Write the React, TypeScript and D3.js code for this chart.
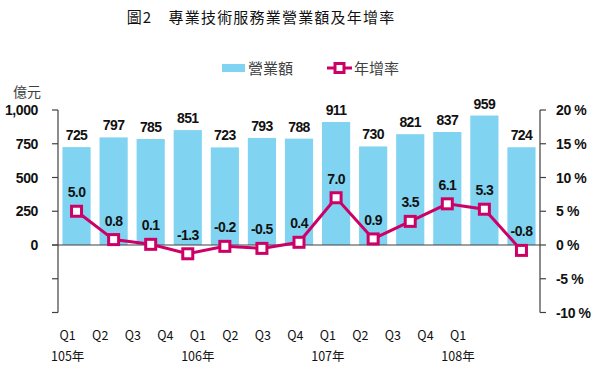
import React from "react";
import * as d3 from "d3";

const quarters = ["Q1", "Q2", "Q3", "Q4", "Q1", "Q2", "Q3", "Q4", "Q1", "Q2", "Q3", "Q4", "Q1"];
const years = ["105年", "", "", "", "106年", "", "", "", "107年", "", "", "", "108年"];
const sales = [725, 797, 785, 851, 723, 793, 788, 911, 730, 821, 837, 959, 724];
const growth = [5.0, 0.8, 0.1, -1.3, -0.2, -0.5, 0.4, 7.0, 0.9, 3.5, 6.1, 5.3, -0.8];
const leftTicks = [-500, -250, 0, 250, 500, 750, 1000];
const rightTicks = [-10, -5, 0, 5, 10, 15, 20];

const W = 595;
const H = 366;
const BLUE = "#80d4f1";
const PINK = "#cc0066";
const AXIS = "#404040";
const NUM_FONT = "'Liberation Sans', Arial, sans-serif";
const CJK_FONT = "'Noto Sans CJK TC', sans-serif";

// plain hyphen for negatives, like the original
const fmt1 = (v: number) => v.toFixed(1);

export default function App() {
  const idx = sales.map((_, i) => i);

  const x = d3.scaleBand<number>()
    .domain(idx)
    .range([58, 540])
    .paddingInner(0.24)
    .paddingOuter(0.12);

  // category labels sit on a narrower span than the bars
  const xLab = d3.scalePoint<number>()
    .domain(idx)
    .range([67.7, 458]);

  const yL = d3.scaleLinear().domain([-500, 1000]).range([312.5, 110]);
  const yR = d3.scaleLinear().domain([-10, 20]).range([312.5, 110]);

  const cx = (i: number) => (x(i) ?? 0) + x.bandwidth() / 2;

  const line = d3.line<number>()
    .x((_, i) => cx(i))
    .y(d => yR(d));

  const m = 10; // marker size

  return (
    <svg width={W} height={H} style={{ position: "absolute", left: 0, top: 0, background: "#fff" }}>
      {/* title */}
      <text x={261} y={23} textAnchor="middle" fontFamily={CJK_FONT} fontSize={15} fill="#111" letterSpacing={1.2}>
        圖2　專業技術服務業營業額及年增率
      </text>

      {/* legend */}
      <rect x={222} y={64} width={23} height={8} fill={BLUE} />
      <text x={248} y={74} fontFamily={CJK_FONT} fontSize={15} fill="#404040">營業額</text>
      <line x1={327} x2={352} y1={68} y2={68} stroke={PINK} strokeWidth={3} />
      <rect x={339.5 - 4.5} y={68 - 4.5} width={9} height={9} fill="#fff" stroke={PINK} strokeWidth={3} />
      <text x={354} y={74} fontFamily={CJK_FONT} fontSize={15} fill="#404040">年增率</text>

      <text x={13} y={97} fontFamily={CJK_FONT} fontSize={14} fill="#404040">億元</text>

      {/* bars */}
      {sales.map((v, i) => (
        <rect key={"b" + i} x={x(i)} y={yL(v)} width={x.bandwidth()} height={yL(0) - yL(v)} fill={BLUE} />
      ))}

      {/* bar value labels */}
      {sales.map((v, i) => (
        <text key={"bl" + i} x={cx(i)} y={yL(v) - 7} textAnchor="middle" fontFamily={NUM_FONT}
          fontWeight="bold" fontSize={14} letterSpacing={-0.6} fill="#111">
          {v}
        </text>
      ))}

      {/* zero line */}
      <line x1={52} x2={540} y1={yL(0)} y2={yL(0)} stroke={AXIS} strokeWidth={1} />

      {/* left axis */}
      <line x1={58} x2={58} y1={yL(1000)} y2={yL(-500)} stroke={AXIS} strokeWidth={1.2} />
      {leftTicks.map(t => (
        <g key={"lt" + t}>
          <line x1={52} x2={58} y1={yL(t)} y2={yL(t)} stroke={AXIS} strokeWidth={1.2} />
          {t >= 0 && (
            <text x={38} y={yL(t) + 5} textAnchor="end" fontFamily={NUM_FONT} fontWeight="bold"
              fontSize={14} letterSpacing={-0.4} fill="#111">
              {d3.format(",")(t)}
            </text>
          )}
        </g>
      ))}

      {/* right axis */}
      <line x1={540} x2={540} y1={yR(20)} y2={yR(-10)} stroke={AXIS} strokeWidth={1.2} />
      {rightTicks.map(t => (
        <g key={"rt" + t}>
          <line x1={540} x2={546} y1={yR(t)} y2={yR(t)} stroke={AXIS} strokeWidth={1.2} />
          <text x={556} y={yR(t) + 5} fontFamily={NUM_FONT} fontWeight="bold" fontSize={14}
            letterSpacing={-0.4} fill="#111">
            {t} %
          </text>
        </g>
      ))}

      {/* growth line */}
      <path d={line(growth) ?? ""} fill="none" stroke={PINK} strokeWidth={3} />
      {growth.map((v, i) => (
        <rect key={"m" + i} x={cx(i) - m / 2} y={yR(v) - m / 2} width={m} height={m}
          fill="#fff" stroke={PINK} strokeWidth={3} />
      ))}
      {growth.map((v, i) => (
        <text key={"gl" + i} x={cx(i)} y={yR(v) - 14} textAnchor="middle" fontFamily={NUM_FONT}
          fontWeight="bold" fontSize={14} letterSpacing={-0.6} fill="#111">
          {fmt1(v)}
        </text>
      ))}

      {/* category labels */}
      {quarters.map((q, i) => (
        <text key={"q" + i} x={xLab(i)} y={340} textAnchor="middle" fontFamily={CJK_FONT}
          fontSize={12.5} fill="#111">
          {q}
        </text>
      ))}
      {years.map((y, i) => y && (
        <text key={"y" + i} x={xLab(i)} y={361} textAnchor="middle" fontFamily={CJK_FONT}
          fontSize={12.5} fill="#111">
          {y}
        </text>
      ))}
    </svg>
  );
}
